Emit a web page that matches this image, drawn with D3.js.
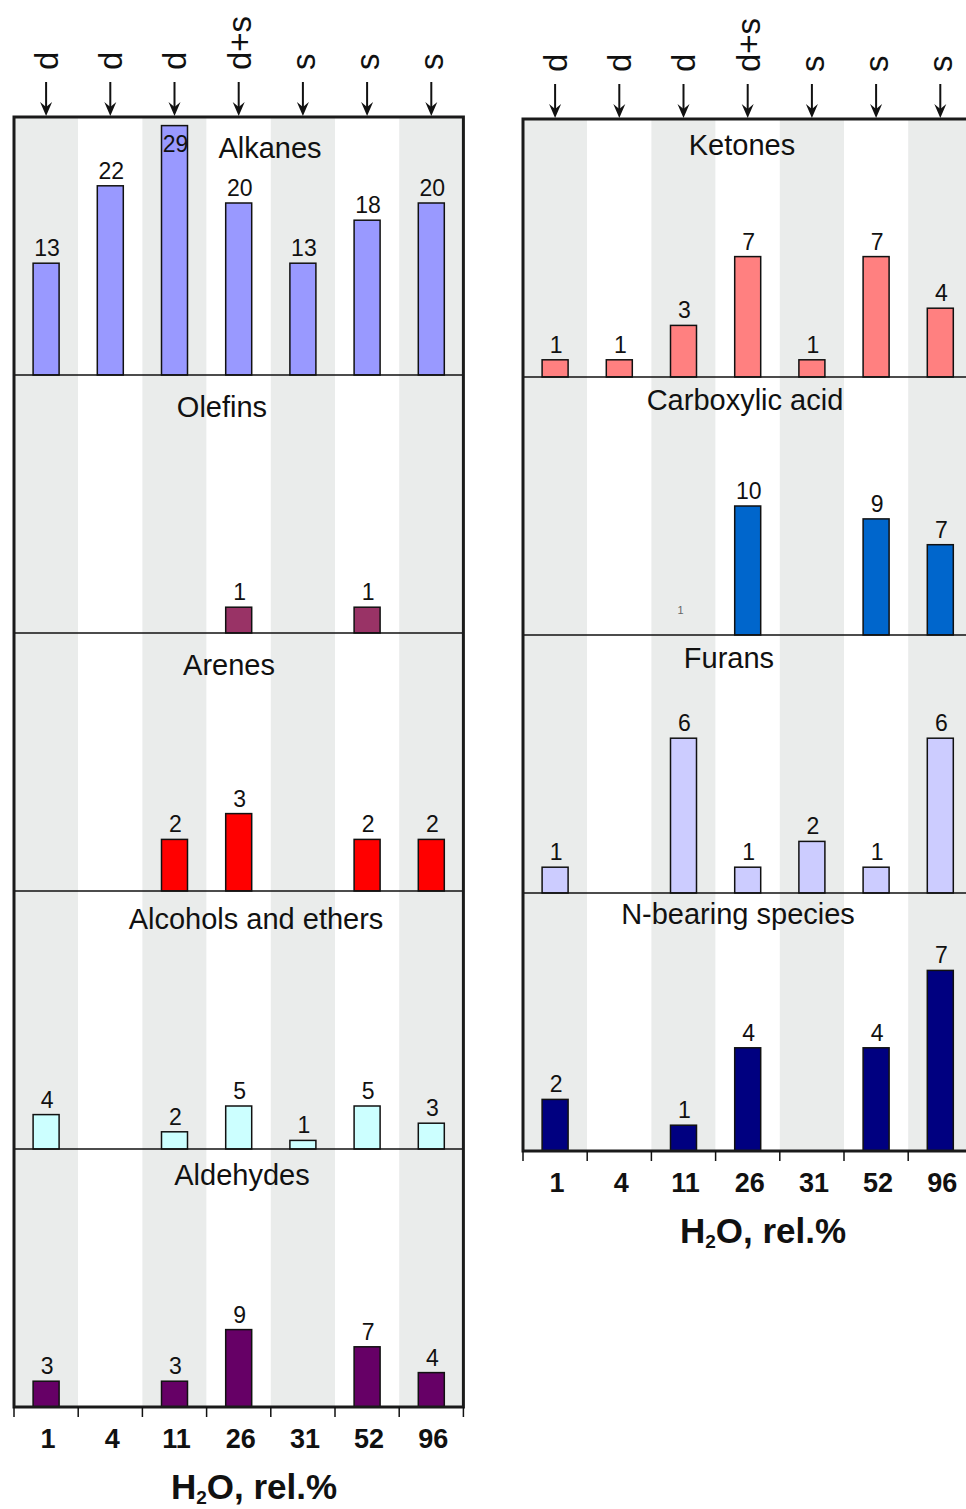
<html><head>
<meta charset="utf-8">
<title>Products by H2O content</title>
<script src="https://cdn.jsdelivr.net/npm/d3@7"></script>
<style>
  body { margin: 0; background: #fff; }
  svg text { font-family: "Liberation Sans", Arial, sans-serif; fill: #111; }
</style>
</head>
<body>
<svg id="chart" width="966" height="1509"></svg>

<script>
// data
const h2o = ["1", "4", "11", "26", "31", "52", "96"];
const modes = ["d", "d", "d", "d+s", "s", "s", "s"];

const leftGroups = ["Alkanes", "Olefins", "Arenes", "Alcohols and ethers", "Aldehydes"];
const rightGroups = ["Ketones", "Carboxylic acid", "Furans", "N-bearing species"];

// null = no bar
const alkanes   = [13, 22, 29, 20, 13, 18, 20];
const olefins   = [null, null, null, 1, null, 1, null];
const arenes    = [null, null, 2, 3, null, 2, 2];
const alcohols  = [4, null, 2, 5, 1, 5, 3];
const aldehydes = [3, null, 3, 9, null, 7, 4];
const ketones   = [1, 1, 3, 7, 1, 7, 4];
const carbox    = [null, null, null, 10, null, 9, 7];
const furans    = [1, null, 6, 1, 2, 1, 6];
const nbearing  = [2, null, 1, 4, null, 4, 7];

const leftValues = [alkanes, olefins, arenes, alcohols, aldehydes];
const rightValues = [ketones, carbox, furans, nbearing];

// styling / layout
const leftColors = ["#9999ff", "#993366", "#ff0000", "#ccffff", "#660066"];
const rightColors = ["#ff8080", "#0066cc", "#ccccff", "#000080"];
const leftMax = [30, 10, 10, 30, 30];
const rightMax = [15, 20, 10, 10];
const leftTitleX = [256, 208, 215, 242, 228];
const rightTitleX = [219, 222, 206, 215];
const leftTitleY = [41, 42, 42, 38, 36];
const rightTitleY = [36, 33, 33, 31];

const svg = d3.select("#chart");
const rowH = 258, panelW = 449.4;

function drawPanel(x0, y0, groups, values, colors, maxes, titleX, titleY) {
  const g = svg.append("g").attr("transform", "translate(" + x0 + "," + y0 + ")");
  const H = rowH * groups.length;

  const x = d3.scaleBand().domain(h2o).range([0, panelW]);

  // alternating background bands
  g.selectAll("rect.band").data(h2o).enter().append("rect")
    .attr("x", d => x(d))
    .attr("y", 0)
    .attr("width", x.bandwidth())
    .attr("height", H)
    .style("fill", (d, i) => i % 2 == 0 ? "#eaeceb" : "#ffffff");

  groups.forEach(function(name, r) {
    const top = r * rowH;
    const y = d3.scaleLinear().domain([0, maxes[r]]).range([top + rowH, top]);
    const rows = values[r].map((v, i) => ({ k: h2o[i], v: v })).filter(d => d.v != null);

    g.selectAll("rect.bar" + r).data(rows).enter().append("rect")
      .attr("x", d => x(d.k) + x.bandwidth() / 2 - 13)
      .attr("y", d => y(d.v))
      .attr("width", 26)
      .attr("height", d => y(0) - y(d.v))
      .style("fill", colors[r])
      .style("stroke", "#111")
      .style("stroke-width", 1.5);

    g.selectAll("text.val" + r).data(rows).enter().append("text")
      .attr("x", d => x(d.k) + x.bandwidth() / 2 + 1)
      .attr("y", function(d) {
        let t = y(d.v) - 7;
        if (t - 18 < top) t = y(d.v) + 26;  // too tall: label sits inside bar
        return t;
      })
      .attr("text-anchor", "middle")
      .style("font-size", "23px")
      .text(d => d.v);

    g.append("text")
      .attr("x", titleX[r])
      .attr("y", top + titleY[r])
      .attr("text-anchor", "middle")
      .style("font-size", "29px")
      .text(name);

    if (r > 0) {
      g.append("line")
        .attr("x1", 0).attr("x2", panelW)
        .attr("y1", top).attr("y2", top)
        .style("stroke", "#111").style("stroke-width", 1.5);
    }
  });

  // frame
  g.append("rect")
    .attr("x", 0).attr("y", 0)
    .attr("width", panelW).attr("height", H)
    .style("fill", "none")
    .style("stroke", "#1a1a1a")
    .style("stroke-width", 3);

  // ticks at band edges under the frame
  const edges = h2o.map(d => x(d)).concat([panelW]);
  g.selectAll("line.tick").data(edges).enter().append("line")
    .attr("x1", d => d).attr("x2", d => d)
    .attr("y1", H).attr("y2", H + 10)
    .style("stroke", "#111").style("stroke-width", 1.5);

  g.selectAll("text.tick").data(h2o).enter().append("text")
    .attr("x", d => x(d) + x.bandwidth() / 2 + 2)
    .attr("y", H + 41)
    .attr("text-anchor", "middle")
    .style("font-size", "27px")
    .style("font-weight", "bold")
    .text(d => d);

  const ttl = g.append("text")
    .attr("x", 240)
    .attr("y", H + 92)
    .attr("text-anchor", "middle")
    .style("font-size", "35px")
    .style("font-weight", "bold");
  ttl.append("tspan").text("H");
  ttl.append("tspan").attr("dy", 5).style("font-size", "19px").text("2");
  ttl.append("tspan").attr("dy", -5).text("O, rel.%");

  // arrows and mode labels on top
  h2o.forEach(function(d, i) {
    const cx = x(d) + x.bandwidth() / 2;
    g.append("line")
      .attr("x1", cx).attr("x2", cx)
      .attr("y1", -35).attr("y2", -8)
      .style("stroke", "#111").style("stroke-width", 2);
    g.append("path")
      .attr("d", "M" + (cx - 6) + "," + (-15) + " L" + cx + "," + (-1) + " L" + (cx + 6) + "," + (-15) + " L" + cx + "," + (-10) + " Z")
      .style("fill", "#111");
    g.append("text")
      .attr("transform", "translate(" + cx + "," + (-47) + ") rotate(-90)")
      .attr("dy", "0.36em")
      .style("font-size", "33px")
      .text(modes[i]);
  });

  return { g: g, x: x };
}

const left = drawPanel(14, 117, leftGroups, leftValues, leftColors, leftMax, leftTitleX, leftTitleY);
const right = drawPanel(523, 119, rightGroups, rightValues, rightColors, rightMax, rightTitleX, rightTitleY);

// stray tiny mark in the carboxylic acid row of the original
right.g.append("text")
  .attr("x", right.x("11") + right.x.bandwidth() / 2 - 3)
  .attr("y", rowH + 237)
  .attr("text-anchor", "middle")
  .style("font-size", "11px")
  .style("fill", "#666")
  .text("1");
</script>
</body>
</html>
